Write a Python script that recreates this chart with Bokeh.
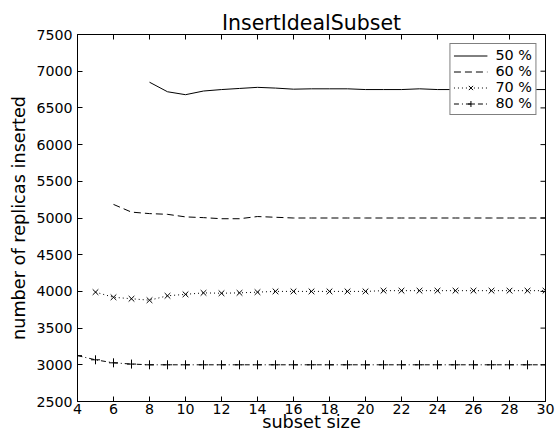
import math
from bokeh.plotting import figure
from bokeh.models import Range1d, FixedTicker, Legend, LegendItem
from bokeh.embed import file_html
from bokeh.resources import INLINE

# ---- data ----
x50 = [8, 9, 10, 11, 12, 13, 14, 15, 16, 17, 18, 19, 20, 21, 22, 23, 24, 25, 26, 27, 28, 29, 30]
y50 = [6850, 6720, 6680, 6730, 6750, 6765, 6780, 6770, 6755, 6760, 6760, 6760, 6750, 6750, 6750,
       6760, 6750, 6750, 6750, 6750, 6750, 6750, 6750]

x60 = [6, 7, 8, 9, 10, 11, 12, 13, 14, 15, 16, 17, 18, 19, 20, 21, 22, 23, 24, 25, 26, 27, 28, 29, 30]
y60 = [5185, 5080, 5060, 5050, 5015, 5005, 4990, 4990, 5020, 5010, 5000, 5000, 5000, 5000, 5000,
       5000, 5000, 5000, 5000, 5000, 5000, 5000, 5000, 5000, 5000]

x70 = [5, 6, 7, 8, 9, 10, 11, 12, 13, 14, 15, 16, 17, 18, 19, 20, 21, 22, 23, 24, 25, 26, 27, 28, 29, 30]
y70 = [3990, 3920, 3900, 3880, 3940, 3960, 3980, 3975, 3980, 3990, 4000, 4000, 4000, 4000, 4000,
       4000, 4010, 4010, 4010, 4010, 4010, 4010, 4010, 4010, 4010, 4010]

x80 = [4, 5, 6, 7, 8, 9, 10, 11, 12, 13, 14, 15, 16, 17, 18, 19, 20, 21, 22, 23, 24, 25, 26, 27, 28, 29, 30]
y80 = [3125, 3068, 3027, 3010, 3000, 3000, 3000, 3000, 3000, 3000, 3000, 3000, 3000, 3000, 3000,
       3000, 3000, 3000, 3000, 3000, 3000, 3000, 3000, 3000, 3000, 3000, 3000]

labels = ["50 %", "60 %", "70 %", "80 %"]
x_ticks = list(range(4, 31, 2))
y_ticks = list(range(2500, 7501, 500))
X_MIN, X_MAX = 4, 30
Y_MIN, Y_MAX = 2500, 7500

FONT = "DejaVu Sans"

p = figure(width=555, height=434, output_backend="svg", toolbar_location=None,
           x_range=Range1d(X_MIN, X_MAX), y_range=Range1d(Y_MIN, Y_MAX),
           title="InsertIdealSubset",
           min_border_left=77, min_border_right=10, min_border_top=34, min_border_bottom=0)

p.title.align = "center"
p.title.text_font = FONT
p.title.text_font_size = "20.5px"
p.title.text_font_style = "normal"
p.title.text_color = "black"
p.title.standoff = 0

p.grid.visible = False
p.outline_line_color = "black"
p.outline_line_width = 1
p.background_fill_color = "white"
p.border_fill_color = "white"

p.xaxis.axis_label = "subset size"
p.yaxis.axis_label = "number of replicas inserted"
p.xaxis.ticker = FixedTicker(ticks=x_ticks)
p.yaxis.ticker = FixedTicker(ticks=y_ticks)

for ax in p.xaxis + p.yaxis:
    ax.major_tick_in = 5
    ax.major_tick_out = 0
    ax.minor_tick_in = 0
    ax.minor_tick_out = 0
    ax.major_tick_line_color = "black"
    ax.axis_line_color = "black"
    ax.major_label_text_font = FONT
    ax.major_label_text_font_size = "14.2px"
    ax.major_label_text_color = "black"
    ax.axis_label_text_font = FONT
    ax.axis_label_text_font_size = "17.7px"
    ax.axis_label_text_font_style = "normal"
    ax.axis_label_text_color = "black"
p.xaxis.major_label_standoff = 2
p.yaxis.major_label_standoff = 5
p.xaxis.axis_label_standoff = -5
p.yaxis.axis_label_standoff = 4

# inward ticks on the top and right edges (half of each dash is clipped by the frame)
p.scatter(x_ticks, [Y_MAX] * len(x_ticks), marker="dash", angle=math.pi / 2, size=10,
          line_color="black", line_width=1)
p.scatter([X_MAX] * len(y_ticks), y_ticks, marker="dash", size=10,
          line_color="black", line_width=1)

r50 = p.line(x50, y50, line_color="black", line_width=1)
r60 = p.line(x60, y60, line_color="black", line_width=1, line_dash="7 4")
r70 = p.line(x70, y70, line_color="black", line_width=1, line_dash="1 3")
m70 = p.scatter(x70, y70, marker="x", size=8, line_color="black", line_width=1)
r80 = p.line(x80, y80, line_color="black", line_width=1, line_dash="5 3 1 3")
m80 = p.scatter(x80, y80, marker="cross", size=9, line_color="black", line_width=1)

legend = Legend(items=[
    LegendItem(label=labels[0], renderers=[r50]),
    LegendItem(label=labels[1], renderers=[r60]),
    LegendItem(label=labels[2], renderers=[r70, m70]),
    LegendItem(label=labels[3], renderers=[r80, m80]),
], location="top_right")
legend.label_text_font = FONT
legend.label_text_font_size = "14.4px"
legend.label_text_color = "black"
legend.border_line_color = "black"
legend.border_line_width = 1
legend.background_fill_alpha = 1
legend.glyph_width = 34
legend.glyph_height = 15
legend.label_height = 15
legend.label_standoff = 8
legend.spacing = 0
legend.padding = 3
legend.margin = 9
p.add_layout(legend)

open("out.html", "w").write(file_html(p, INLINE))
